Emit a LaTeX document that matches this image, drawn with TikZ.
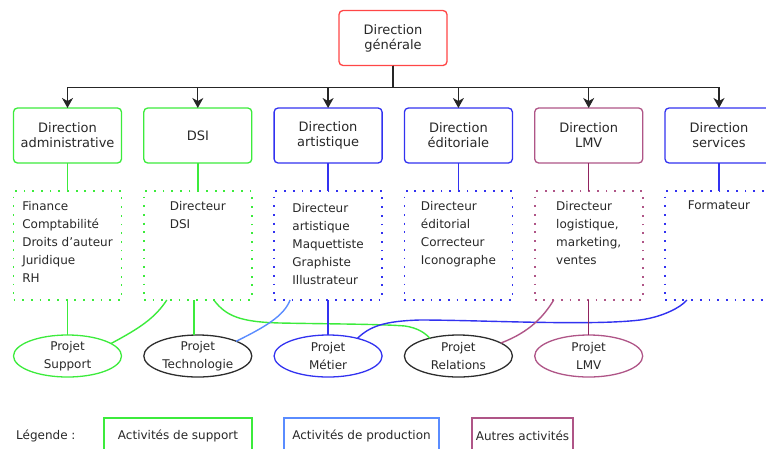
\documentclass[tikz,border=0pt]{standalone}
\usepackage{fontspec}
\setmainfont{DejaVu Sans}
\usepackage{xcolor}
\usetikzlibrary{arrows.meta,positioning,shapes.geometric}
\definecolor{dgrouge}{RGB}{255,70,70}
\definecolor{vertsup}{RGB}{60,235,60}
\definecolor{bleuprod}{RGB}{50,50,240}
\definecolor{bleuclair}{RGB}{90,140,255}
\definecolor{mauve}{RGB}{175,85,135}
\definecolor{mauvefonce}{RGB}{145,35,95}
\definecolor{gristexte}{RGB}{40,40,40}
\definecolor{grisprojet}{RGB}{45,45,45}

\begin{document}
\begin{tikzpicture}[x=1pt, y=-1pt,
  font=\fontsize{12}{18}\selectfont, text=gristexte,
  arrow/.style={-{Stealth[length=10pt, width=11pt, inset=3pt]}, line width=1.3pt, draw=black!85},
  dirbox/.style={rectangle, rounded corners=4pt, line width=1.3pt, fill=white,
                 minimum width=108pt, minimum height=55pt, inner sep=0pt, outer sep=0pt,
                 align=center, font=\fontsize{13}{15}\selectfont},
  liste/.style={rectangle, line width=1.8pt, dash pattern=on 1.8pt off 6.9pt,
                minimum width=108pt, minimum height=109pt, inner sep=0pt, outer sep=0pt},
  listetxt/.style={anchor=north, align=left, inner sep=0pt, yshift=-10pt},
  projet/.style={ellipse, line width=1.3pt, minimum width=108pt, minimum height=42pt,
                 inner sep=0pt, outer sep=0pt, align=center},
  lien/.style={line width=1.4pt},
  legbox/.style={rectangle, line width=1.1pt, minimum height=36pt, inner sep=0pt, outer sep=0pt}
]
\useasboundingbox (0,0) rectangle (766,448);

% --- Direction generale et directions ---
\node[dirbox, draw=dgrouge] (dg) at (393,38) {Direction\\générale};

\node[dirbox, draw=vertsup] (dadmin) at (67.5,135.5) {Direction\\administrative};
\node[dirbox, draw=vertsup, right=22.3pt of dadmin] (ddsi) {DSI};
\node[dirbox, draw=bleuprod, right=22.3pt of ddsi] (dartis) {Direction\\artistique};
\node[dirbox, draw=bleuprod, right=22.3pt of dartis] (dedit) {Direction\\éditoriale};
\node[dirbox, draw=mauve, right=22.3pt of dedit] (dlmv) {Direction\\LMV};
\node[dirbox, draw=bleuprod, right=22.3pt of dlmv] (dserv) {Direction\\services};

% --- Listes des postes ---
\node[liste, draw=vertsup, below=28pt of dadmin] (ladmin) {};
\node[listetxt] (ladmin-t) at (ladmin.north) {Finance\\Comptabilité\\Droits d’auteur\\Juridique\\RH};
\node[liste, draw=vertsup, below=28pt of ddsi] (ldsi) {};
\node[listetxt] (ldsi-t) at (ldsi.north) {Directeur\\DSI};
\node[liste, draw=bleuprod, below=28pt of dartis] (lartis) {};
\node[listetxt, yshift=-2pt] (lartis-t) at (lartis.north) {Directeur\\artistique\\Maquettiste\\Graphiste\\Illustrateur};
\node[liste, draw=bleuprod, below=28pt of dedit] (ledit) {};
\node[listetxt] (ledit-t) at (ledit.north) {Directeur\\éditorial\\Correcteur\\Iconographe};
\node[liste, draw=mauve, below=28pt of dlmv] (llmv) {};
\node[listetxt] (llmv-t) at (llmv.north) {Directeur\\logistique,\\marketing,\\ventes};
\node[liste, draw=bleuprod, below=28pt of dserv] (lserv) {};
\node[listetxt] (lserv-t) at (lserv.north) {Formateur};

% --- Projets ---
\node[projet, draw=vertsup, below=35pt of ladmin] (psupport) {Projet\\Support};
\node[projet, draw=grisprojet, below=35pt of ldsi] (ptechno) {Projet\\Technologie};
\node[projet, draw=bleuprod, below=35pt of lartis] (pmetier) {Projet\\Métier};
\node[projet, draw=grisprojet, below=35pt of ledit] (prelations) {Projet\\Relations};
\node[projet, draw=mauve, below=35pt of llmv] (plmv) {Projet\\LMV};

% --- Fleches de la direction generale ---
\draw[arrow] (dg.south) -- ++(0,22) -| (dadmin.north);
\draw[arrow] (dg.south) -- ++(0,22) -| (ddsi.north);
\draw[arrow] (dg.south) -- ++(0,22) -| (dartis.north);
\draw[arrow] (dg.south) -- ++(0,22) -| (dedit.north);
\draw[arrow] (dg.south) -- ++(0,22) -| (dlmv.north);
\draw[arrow] (dg.south) -- ++(0,22) -| (dserv.north);

% --- Directions -> listes ---
\draw[lien, draw=vertsup] (dadmin) -- (ladmin);
\draw[lien, draw=vertsup] (ddsi) -- (ldsi);
\draw[lien, draw=bleuprod] (dartis) -- (lartis);
\draw[lien, draw=bleuprod] (dedit) -- (ledit);
\draw[lien, draw=mauvefonce] (dlmv) -- (llmv);
\draw[lien, draw=bleuprod] (dserv) -- (lserv);

% --- Listes -> projets ---
\draw[lien, draw=vertsup] (ladmin) -- (psupport);
\draw[lien, draw=vertsup] ([xshift=-4pt]ldsi.south) -- ([xshift=-4pt]ptechno.north);
\draw[lien, draw=vertsup] ([xshift=-31pt]ldsi.south) .. controls (155,318) and (140,328) .. (psupport.16);
\draw[lien, draw=vertsup] ([xshift=16pt]ldsi.south) .. controls (226,316) and (240,322) .. (280,323)
  .. controls (330,324) and (380,324) .. (405,326) .. controls (418,328) and (425,333) .. (prelations.148);
\draw[lien, draw=bleuclair] ([xshift=-38pt]lartis.south) .. controls (284,316) and (265,327) .. (ptechno.21);
\draw[lien, draw=bleuprod] (lartis) -- (pmetier);
\draw[lien, draw=bleuprod] (pmetier.31) .. controls (370,326) and (385,321) .. (420,320)
  .. controls (480,320) and (590,326) .. (640,320) .. controls (662,317) and (680,308) .. ([xshift=-32pt]lserv.south);
\draw[lien, draw=mauve] ([xshift=-35pt]llmv.south) .. controls (544,316) and (530,332) .. (prelations.17);
\draw[lien, draw=mauvefonce] (llmv) -- (plmv);

% --- Legende ---
\node[anchor=west, inner sep=0pt] (legende) at (16,436) {Légende~:};
\node[legbox, draw=vertsup, minimum width=148pt] (legsup) at (178,436) {Activités de support};
\node[legbox, draw=bleuclair, minimum width=155pt] (legprod) at (361.5,436) {Activités de production};
\node[legbox, draw=mauve, minimum width=101pt] (legautre) at (522.5,436) {Autres activités};

\end{tikzpicture}
\end{document}
